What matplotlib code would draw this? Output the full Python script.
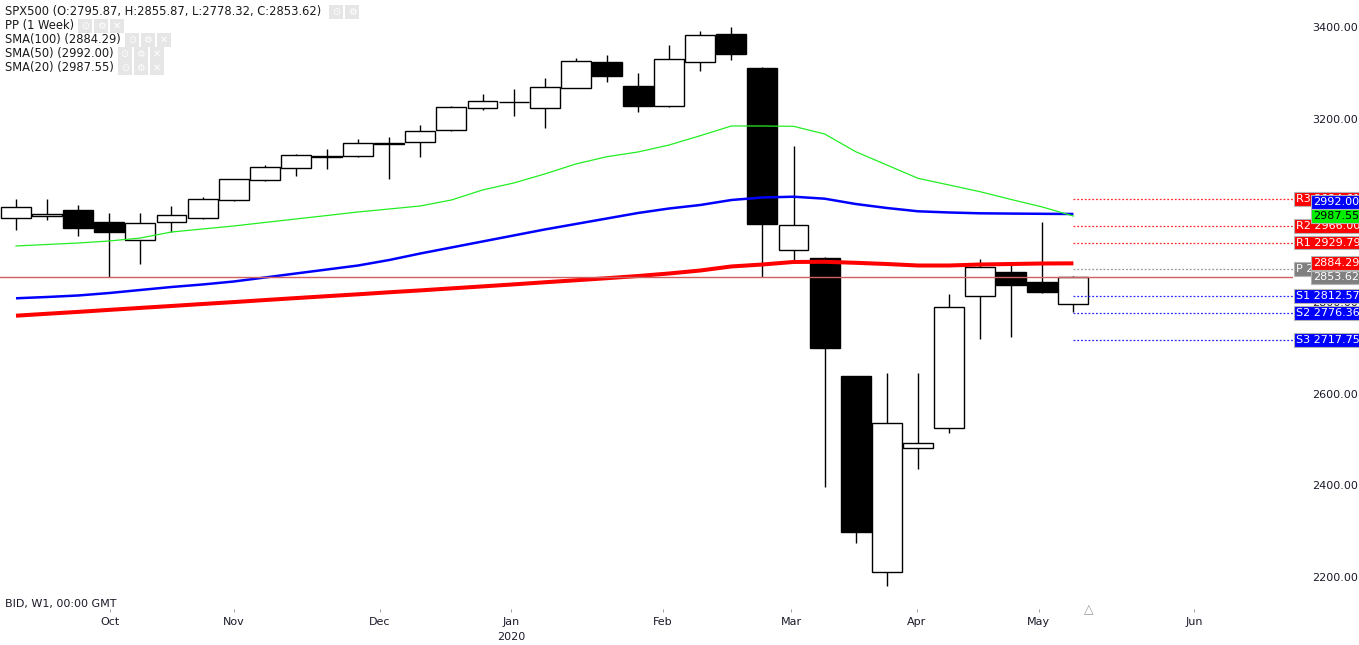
import matplotlib
matplotlib.use("Agg")
import matplotlib.pyplot as plt
from matplotlib import transforms
from matplotlib.patches import Rectangle

# weekly SPX500 candles (Sep 2019 .. May 2020)
opens = [2982.6, 2987.0, 3000.7, 2974.5, 2934.6, 2973.9, 2982.6, 3021.9, 3065.5, 3091.7,
         3118.5, 3117.9, 3147.6, 3148.4, 3174.6, 3222.6, 3236.5, 3222.6, 3266.3, 3323.6,
         3271.3, 3227.0, 3323.0, 3384.7, 3310.8, 2912.6, 2896.0, 2638.3, 2210.2, 2480.8,
         2524.5, 2812.4, 2864.8, 2843.0, 2795.87]
highs = [3024.1, 3024.1, 3011.6, 2993.5, 2993.5, 3009.5, 3028.4, 3068.5, 3098.3, 3123.6,
         3133.2, 3155.6, 3159.3, 3185.5, 3227.6, 3253.8, 3264.0, 3288.7, 3332.4, 3338.9,
         3299.0, 3360.7, 3391.3, 3399.3, 3313.4, 3140.1, 2897.5, 2639.0, 2644.4, 2644.4,
         2816.8, 2893.2, 2880.7, 2974.5, 2855.87]
lows = [2956.4, 2978.0, 2944.7, 2855.0, 2882.3, 2953.4, 2982.0, 3021.0, 3065.0, 3075.6,
        3091.0, 3117.0, 3069.0, 3117.0, 3174.0, 3218.9, 3206.5, 3180.3, 3266.0, 3280.7,
        3215.2, 3226.5, 3304.7, 3328.0, 2854.5, 2892.3, 2396.4, 2274.0, 2181.0, 2435.0,
        2513.5, 2720.0, 2724.3, 2819.0, 2778.32]
closes = [3006.6, 2991.0, 2962.0, 2953.4, 2971.7, 2989.2, 3024.1, 3067.7, 3093.9, 3120.1,
          3115.7, 3146.3, 3145.4, 3172.4, 3224.8, 3237.9, 3236.0, 3268.4, 3325.2, 3293.7,
          3228.3, 3329.5, 3381.9, 3341.7, 2971.0, 2967.3, 2700.7, 2298.6, 2535.3, 2491.7,
          2788.4, 2875.7, 2836.4, 2822.5, 2853.62]

sma20 = [2922.2, 2925.5, 2928.7, 2933.1, 2939.6, 2952.7, 2959.3, 2965.8, 2973.5, 2981.1,
         2988.7, 2996.4, 3002.9, 3009.5, 3022.5, 3044.4, 3059.6, 3079.3, 3101.1, 3117.0,
         3127.3, 3142.5, 3162.8, 3184.0, 3184.0, 3183.3, 3166.6, 3127.9, 3098.9, 3069.9,
         3055.3, 3040.6, 3023.6, 3007.3, 2987.55]
sma50 = [2808.1, 2810.9, 2814.2, 2819.6, 2826.2, 2832.7, 2838.2, 2844.7, 2853.4, 2862.2,
         2870.9, 2879.6, 2891.6, 2905.8, 2918.9, 2932.0, 2945.1, 2958.2, 2970.2, 2982.2,
         2994.2, 3004.0, 3011.6, 3022.5, 3028.0, 3029.7, 3025.4, 3013.8, 3005.1, 2997.9,
         2995.3, 2993.5, 2992.9, 2992.4, 2992.00]
sma100 = [2770.1, 2774.3, 2778.4, 2782.8, 2787.1, 2791.3, 2795.6, 2799.8, 2804.2, 2808.5,
          2812.7, 2816.8, 2821.2, 2825.3, 2829.7, 2834.0, 2838.4, 2843.0, 2847.4, 2851.9,
          2856.7, 2862.2, 2868.7, 2877.5, 2881.8, 2887.3, 2887.7, 2885.5, 2882.9, 2879.6,
          2879.6, 2881.8, 2882.9, 2884.0, 2884.29]

pivot_names = ["R3", "R2", "R1", "P", "S1", "S2", "S3"]
pivot_values = [3024.61, 2966.00, 2929.79, 2871.18, 2812.57, 2776.36, 2717.75]
pivot_colors = ["#ff2a2a", "#ff2a2a", "#ff2a2a", "#999999", "#2a2aff", "#2a2aff", "#2a2aff"]
pivot_boxes = ["#ff0000", "#ff0000", "#ff0000", "#808080", "#0000ff", "#0000ff", "#0000ff"]

month_ticks = [3.02, 7.01, 11.70, 15.92, 20.80, 24.92, 28.97, 32.89, 37.88]
month_labels = ["Oct", "Nov", "Dec", "Jan", "Feb", "Mar", "Apr", "May", "Jun"]
price_ticks = [2200, 2400, 2600, 2800, 3000, 3200, 3400]

legend_lines = ["SPX500 (O:2795.87, H:2855.87, L:2778.32, C:2853.62)",
                "PP (1 Week)", "SMA(100) (2884.29)", "SMA(50) (2992.00)", "SMA(20) (2987.55)"]
legend_icons = [2, 3, 3, 3, 3]

W, H = 1359, 645
fig = plt.figure(figsize=(W / 100, H / 100), dpi=100)
ax = fig.add_axes([0, 33 / H, 1293 / W, 612 / H])
ax.set_xlim(-0.514, 41.06)
ax.set_ylim(2123.6, 3458.9)
for s in ax.spines.values():
    s.set_visible(False)

n = len(opens)
xs = list(range(n))

# candles
ax.vlines(xs, lows, highs, color="black", lw=1.0, zorder=2)
bottoms = [min(o, c) for o, c in zip(opens, closes)]
heights = [max(abs(c - o), 0.6) for o, c in zip(opens, closes)]
faces = ["white" if c >= o else "black" for o, c in zip(opens, closes)]
ax.bar(xs, heights, bottom=bottoms, width=0.96, color=faces, edgecolor="black",
       linewidth=1.0, zorder=3)

# moving averages
ax.plot(xs, sma100, color="#ff0000", lw=2.9, zorder=4, solid_capstyle="butt")
ax.plot(xs, sma50, color="#0000ff", lw=1.8, zorder=4, solid_capstyle="butt")
ax.plot(xs, sma20, color="#22ee22", lw=0.9, zorder=4)

# last close line
ax.axhline(closes[-1], color="#d06060", lw=1.0, zorder=4)

# weekly pivots
for v, c in zip(pivot_values, pivot_colors):
    ax.hlines(v, n - 1, 41.06, colors=c, lw=0.9, linestyles=(0, (1.5, 1.5)), zorder=4)

# price axis
ax.yaxis.tick_right()
ax.set_yticks(price_ticks, ["%.2f" % p for p in price_ticks])
ax.tick_params(axis="y", length=0, pad=14, labelsize=8, labelcolor="#1a1a2a")
ax.set_xticks(month_ticks, month_labels)
ax.tick_params(axis="x", direction="in", length=2.2, width=0.7, color="#a0a0a0",
               pad=3.5, labelsize=8, labelcolor="#1a1a2a")

# right-hand labels
trans = transforms.blended_transform_factory(fig.transFigure, ax.transData)
for name, v, bc in zip(pivot_names, pivot_values, pivot_boxes):
    ax.text(1296 / W, v, "%s %.2f" % (name, v), transform=trans, fontsize=8,
            color="white", va="center", ha="left", zorder=6,
            bbox=dict(boxstyle="square,pad=0.17", fc=bc, ec="#b4b4b4", lw=0.8))

value_labels = [(closes[-1], "#808080", "white"), (sma100[-1], "#ff0000", "white"),
                (sma20[-1], "#00ee00", "black"), (sma50[-1], "#0000ff", "white")]
value_labels.sort(key=lambda t: t[0])
prev = None
for v, bc, tc in value_labels:
    y = v if prev is None or v - prev >= 31 else prev + 31
    prev = y
    ax.text(1313 / W, y, "%.2f" % v, transform=trans, fontsize=8, color=tc,
            va="center", ha="left", zorder=7,
            bbox=dict(boxstyle="square,pad=0.17", fc=bc, ec="#b4b4b4", lw=0.8))

# bottom texts
tb = transforms.blended_transform_factory(ax.transData, fig.transFigure)
ax.text(month_ticks[3], 1 - 637 / H, "2020", transform=tb, fontsize=8,
        color="#1a1a2a", ha="center", va="center")
fig.text(5 / W, 1 - 604 / H, "BID, W1, 00:00 GMT", fontsize=8, color="#1a1a2a",
         va="center", ha="left")
fig.text(1089 / W, 1 - 610 / H, "\u25b3", fontsize=9, color="#9a9a9a",
         ha="center", va="center")

# legend block top-left
texts = []
for i, line in enumerate(legend_lines):
    yc = 12 + 14 * i
    t = fig.text(5 / W, 1 - yc / H, line, fontsize=8.3, color="#1a1a1a",
                 va="center", ha="left")
    texts.append((t, yc))
fig.canvas.draw()
renderer = fig.canvas.get_renderer()
glyphs = ["\u2299", "\u2699", "\u2715"]
for (t, yc), k in zip(texts, legend_icons):
    bb = t.get_window_extent(renderer)
    x0 = bb.x1 + 8 if k == 2 else bb.x1 + 4
    for j in range(k):
        xl = x0 + j * 16
        fig.add_artist(Rectangle((xl / W, (H - yc - 7) / H), 14 / W, 14 / H,
                                 transform=fig.transFigure, fc="#e6e6e6", ec="none"))
        fig.text((xl + 7) / W, 1 - yc / H, glyphs[j], fontsize=7, color="white",
                 ha="center", va="center")

fig.savefig("out.png", dpi=100)
